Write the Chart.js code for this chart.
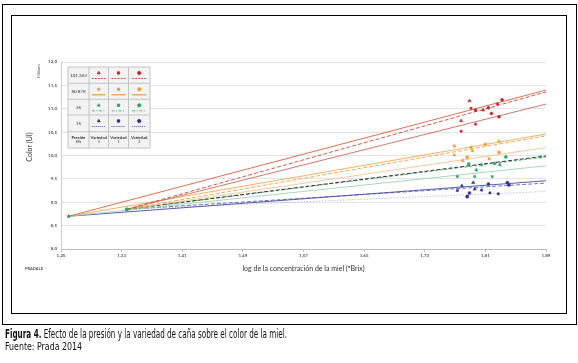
<!DOCTYPE html>
<html>
<head>
<meta charset="utf-8">
<script src="https://cdn.jsdelivr.net/npm/chart.js@4.4.1/dist/chart.umd.min.js"></script>
<style>
body { margin: 0; background: #fff; width: 578px; height: 363px; overflow: hidden; position: relative; }
#wrap { position: absolute; left: 0; top: 0; width: 578px; height: 363px; }
.frame { position: absolute; box-sizing: border-box; border: 1.5px solid #000; pointer-events: none; }
#outer { left: 2px; top: 4px; width: 575px; height: 321px; }
#inner { left: 11px; top: 15px; width: 556px; height: 299px; }
.cap { position: absolute; left: 5px; white-space: nowrap; transform-origin: 0 0; color: #111;
       font-family: 'Liberation Sans Narrow', 'DejaVu Sans Condensed', 'Roboto', sans-serif; }
#cap1 { top: 327px; font-size: 11.5px; }
#cap2 { top: 340px; font-size: 11px; }
</style>
</head>
<body>
<div id="wrap"><canvas id="colorChart"></canvas></div>
<div class="frame" id="outer"></div>
<div class="frame" id="inner"></div>
<div class="cap" id="cap1"><b>Figura 4.</b> Efecto de la presión y la variedad de caña sobre el color de la miel.</div>
<div class="cap" id="cap2">Fuente: Prada 2014</div>
<script>
// axis ticks
const xTicks = [1.25, 1.33, 1.41, 1.49, 1.57, 1.65, 1.73, 1.81, 1.89];
const yTicks = [8.0, 8.5, 9.0, 9.5, 10.0, 10.5, 11.0, 11.5, 12.0];

// legend table labels
const pressures = ['101.363', '80.878', '35', '15'];
const varieties = ['Variedad 3', 'Variedad 1', 'Variedad 2'];

// trend lines (red x3, orange x3, green x3, blue x3)
const trendStartX = [1.26, 1.337, 1.337, 1.26, 1.337, 1.337, 1.337, 1.26, 1.337, 1.26, 1.337, 1.337];
const trendStartY = [8.70, 8.85, 8.85, 8.70, 8.85, 8.85, 8.85, 8.70, 8.85, 8.70, 8.85, 8.85];
const trendEndX = [1.89, 1.89, 1.89, 1.89, 1.89, 1.89, 1.89, 1.89, 1.89, 1.89, 1.89, 1.89];
const trendEndY = [11.40, 11.36, 11.10, 10.46, 10.42, 10.17, 9.99, 9.78, 9.97, 9.46, 9.41, 9.23];

// measured points, variety index 0 = triangle, 1 = square, 2 = circle
const redX = [1.789, 1.778, 1.807, 1.791, 1.778, 1.797, 1.826, 1.797, 1.814, 1.832, 1.818, 1.828];
const redY = [11.17, 10.74, 10.97, 11.01, 10.52, 10.67, 11.10, 10.97, 11.02, 11.19, 10.90, 10.83];
const redVar = [0, 0, 0, 1, 1, 1, 1, 2, 2, 2, 2, 2];

const orangeX = [1.769, 1.780, 1.828, 1.769, 1.791, 1.793, 1.815, 1.810, 1.828, 1.786];
const orangeY = [10.20, 9.89, 10.30, 10.01, 10.17, 10.10, 9.93, 10.24, 10.07, 9.96];
const orangeVar = [0, 0, 0, 1, 1, 1, 1, 2, 2, 2];

const greenX = [1.798, 1.805, 1.883, 1.773, 1.796, 1.819, 1.829, 1.788, 1.822, 1.837];
const greenY = [9.69, 9.80, 9.97, 9.55, 9.55, 9.55, 9.80, 9.82, 9.83, 9.97];
const greenVar = [0, 0, 0, 1, 1, 1, 1, 2, 2, 2];

const blueX = [1.779, 1.794, 1.796, 1.773, 1.786, 1.805, 1.816, 1.827, 1.789, 1.814, 1.839, 1.841, 1.786];
const blueY = [9.35, 9.42, 9.28, 9.25, 9.13, 9.26, 9.20, 9.18, 9.20, 9.39, 9.42, 9.37, 9.12];
const blueVar = [0, 0, 0, 1, 1, 1, 1, 1, 2, 2, 2, 2, 2];

// common starting points
const originX = [1.26, 1.337];
const originY = [8.70, 8.85];

// styles
const groupColors = ['#c0282d', '#ef9a3c', '#2ea866', '#2e3192'];
const shapes = ['triangle', 'rect', 'circle'];
const trendStyles = [
    { c: '#d9603f', d: [] }, { c: '#c44a3c', d: [4, 2] }, { c: '#cc6a5c', d: [] },
    { c: '#f2a855', d: [] }, { c: '#eaa24a', d: [4, 2] }, { c: '#f6c290', d: [] },
    { c: '#222', d: [4, 2] }, { c: '#9cd5b2', d: [] }, { c: '#48ad72', d: [3, 2] },
    { c: '#4549a0', d: [] }, { c: '#6165b6', d: [4, 2] }, { c: '#9699cc', d: [1, 2] }
];
const legendDash = [[2, 1], [], [3, 1.5, 1, 1.5], [1, 1]];

function fmt(v, d) {
    return v.toFixed(d).replace('.', ',');
}

const datasets = [];

[[redX, redY, redVar], [orangeX, orangeY, orangeVar], [greenX, greenY, greenVar], [blueX, blueY, blueVar]]
    .forEach(([xs, ys, vs], g) => {
        for (let v = 0; v < 3; v++) {
            const pts = [];
            xs.forEach((x, i) => { if (vs[i] === v) pts.push({ x: x, y: ys[i] }); });
            datasets.push({
                type: 'scatter',
                label: pressures[g] + ' ' + varieties[v],
                data: pts,
                pointStyle: shapes[v],
                pointRadius: v === 0 ? 1.9 : 1.5,
                backgroundColor: groupColors[g],
                borderColor: groupColors[g],
                borderWidth: 0.5,
                order: 0
            });
        }
    });

datasets.push({
    type: 'scatter',
    label: 'inicio',
    data: originX.map((x, i) => ({ x: x, y: originY[i] })),
    pointStyle: ['triangle', 'rect'],
    pointRadius: 1.8,
    backgroundColor: ['#3a9a80', '#2ea866'],
    borderColor: ['#3a9a80', '#2ea866'],
    order: 0
});

trendEndY.forEach((ey, i) => {
    datasets.push({
        type: 'line',
        label: 'tendencia ' + i,
        data: [{ x: trendStartX[i], y: trendStartY[i] }, { x: trendEndX[i], y: ey }],
        borderColor: trendStyles[i].c,
        borderDash: trendStyles[i].d,
        borderWidth: 0.9,
        pointRadius: 0,
        fill: false,
        order: 1
    });
});

// texts outside the plot and the legend table
const extrasPlugin = {
    id: 'extras',
    afterDraw(chart) {
        const ctx = chart.ctx;
        const area = chart.chartArea;
        ctx.save();

        // axis titles and small labels
        ctx.fillStyle = '#333';
        ctx.font = '7px Lato, sans-serif';
        ctx.textAlign = 'center';
        ctx.textBaseline = 'middle';
        ctx.fillText('log de la concentración de la miel (ºBrix)', (area.left + area.right) / 2, 269);

        ctx.font = 'bold 4px Lato, sans-serif';
        ctx.fillStyle = '#555';
        ctx.textAlign = 'left';
        ctx.fillText('PRADALE', 25, 269);

        ctx.save();
        ctx.translate(30, 147);
        ctx.rotate(-Math.PI / 2);
        ctx.font = '7px Lato, sans-serif';
        ctx.fillStyle = '#333';
        ctx.textAlign = 'center';
        ctx.fillText('Color (UI)', 0, 0);
        ctx.restore();

        ctx.save();
        ctx.translate(39, 71);
        ctx.rotate(-Math.PI / 2);
        ctx.font = '4px Lato, sans-serif';
        ctx.fillStyle = '#555';
        ctx.textAlign = 'center';
        ctx.fillText('Millares', 0, 0);
        ctx.restore();

        // legend table
        const colX = [68, 89, 108.5, 128.5, 150];
        const rowY = [67, 83.3, 99.3, 115, 131.7, 148];
        ctx.fillStyle = '#f3f3f3';
        ctx.fillRect(colX[0], rowY[0], colX[4] - colX[0], rowY[5] - rowY[0]);
        ctx.strokeStyle = '#c4c4c4';
        ctx.lineWidth = 1;
        ctx.beginPath();
        colX.forEach(x => { ctx.moveTo(x, rowY[0]); ctx.lineTo(x, rowY[5]); });
        rowY.forEach(y => { ctx.moveTo(colX[0], y); ctx.lineTo(colX[4], y); });
        ctx.stroke();

        ctx.font = '4.5px Lato, sans-serif';
        ctx.textAlign = 'center';
        pressures.forEach((p, r) => {
            const cy = (rowY[r] + rowY[r + 1]) / 2;
            ctx.fillStyle = '#333';
            ctx.fillText(p, (colX[0] + colX[1]) / 2, cy);
            for (let v = 0; v < 3; v++) {
                const cx = (colX[v + 1] + colX[v + 2]) / 2;
                ctx.save();
                ctx.fillStyle = groupColors[r];
                ctx.strokeStyle = groupColors[r];
                Chart.helpers.drawPoint(ctx, { pointStyle: shapes[v], radius: 1.6, borderWidth: 0.5 }, cx, rowY[r] + 6);
                ctx.restore();
                ctx.save();
                ctx.strokeStyle = groupColors[r];
                ctx.lineWidth = r === 1 ? 1.2 : 0.8;
                ctx.setLineDash(legendDash[r]);
                ctx.beginPath();
                ctx.moveTo(cx - 7, rowY[r] + 11.5);
                ctx.lineTo(cx + 7, rowY[r] + 11.5);
                ctx.stroke();
                ctx.restore();
            }
        });
        ctx.fillStyle = '#333';
        const lastTop = rowY[4];
        ctx.font = 'bold 4.2px Lato, sans-serif';
        ctx.fillText('Presión', (colX[0] + colX[1]) / 2, lastTop + 6);
        ctx.font = '3.6px Lato, sans-serif';
        ctx.fillText('kPa', (colX[0] + colX[1]) / 2, lastTop + 10.5);
        varieties.forEach((v, i) => {
            const cx = (colX[i + 1] + colX[i + 2]) / 2;
            const parts = v.split(' ');
            ctx.font = 'bold 4.2px Lato, sans-serif';
            ctx.fillText(parts[0], cx, lastTop + 6);
            ctx.font = '3.6px Lato, sans-serif';
            ctx.fillText(parts[1], cx, lastTop + 10.5);
        });

        ctx.restore();
    }
};

const ctx = document.getElementById('colorChart').getContext('2d');
new Chart(ctx, {
    data: { datasets: datasets },
    options: {
        responsive: true,
        maintainAspectRatio: false,
        animation: false,
        layout: { padding: { left: 0, right: 32, top: 62, bottom: 94 } },
        plugins: { legend: { display: false }, tooltip: { enabled: false } },
        scales: {
            x: {
                type: 'linear',
                min: xTicks[0],
                max: xTicks[xTicks.length - 1],
                afterBuildTicks: scale => { scale.ticks = xTicks.map(v => ({ value: v })); },
                afterFit: scale => { scale.height = 20; },
                grid: { drawOnChartArea: false, drawTicks: true, tickLength: 3, color: '#bdbdbd' },
                border: { display: true, color: '#bdbdbd' },
                ticks: {
                    padding: 1,
                    color: '#555',
                    font: { family: 'Lato', size: 4.5, weight: 'bold' },
                    callback: v => fmt(v, 2)
                }
            },
            y: {
                type: 'linear',
                min: yTicks[0],
                max: yTicks[yTicks.length - 1],
                afterBuildTicks: scale => { scale.ticks = yTicks.map(v => ({ value: v })); },
                afterFit: scale => { scale.width = 61; },
                grid: { color: '#e4e4e4', drawTicks: false },
                border: { display: true, color: '#d0d0d0' },
                ticks: {
                    padding: 4,
                    color: '#555',
                    font: { family: 'Lato', size: 4.5, weight: 'bold' },
                    callback: v => fmt(v, 1)
                }
            }
        }
    },
    plugins: [extrasPlugin]
});

// squeeze caption lines to the condensed width of the original
function fitCaption(id, target) {
    const el = document.getElementById(id);
    const w = el.getBoundingClientRect().width;
    if (w > 0) el.style.transform = 'scaleX(' + (target / w) + ')';
}
fitCaption('cap1', 282);
fitCaption('cap2', 77);
</script>
</body>
</html>
